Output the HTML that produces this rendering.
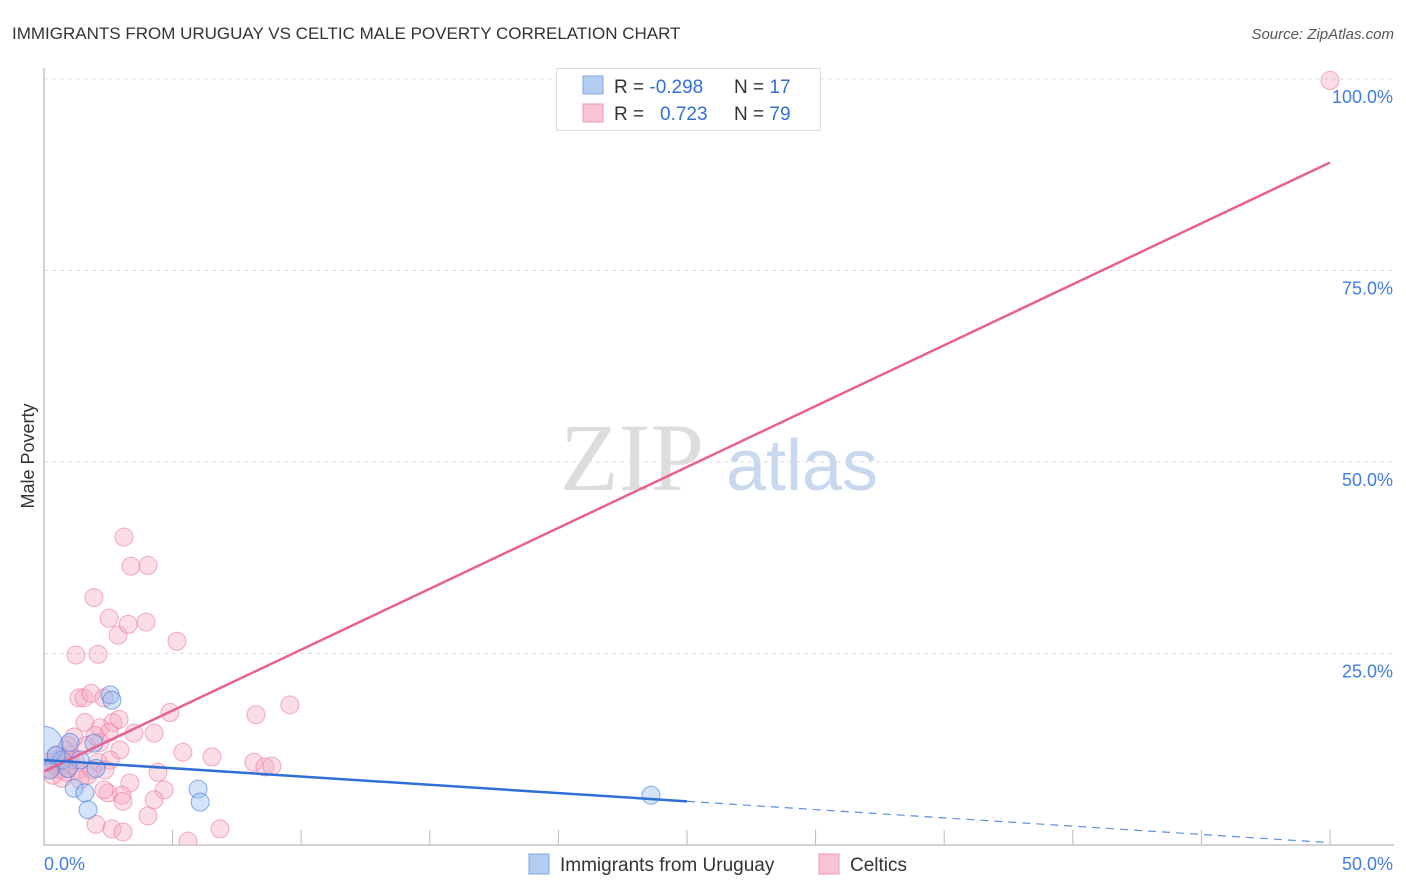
<!DOCTYPE html>
<html><head><meta charset="utf-8"><style>
body{margin:0;background:#fff;font-family:"Liberation Sans",sans-serif}
svg{display:block}
</style></head><body>
<svg id="c" width="1406" height="892" viewBox="0 0 1406 892">
<defs><clipPath id="plotclip"><rect x="44" y="60" width="1362" height="785"/></clipPath></defs>
<text x="12" y="39" font-size="17" fill="#333">IMMIGRANTS FROM URUGUAY VS CELTIC MALE POVERTY CORRELATION CHART</text>
<text x="1394" y="39" font-size="15" fill="#555" font-style="italic" text-anchor="end">Source: ZipAtlas.com</text>
<text x="0" y="0" font-size="18" fill="#333" transform="translate(34,456) rotate(-90)" text-anchor="middle">Male Poverty</text>
<g>
<text x="632" y="490" font-size="96" font-family="Liberation Serif,serif" fill="#ddd" text-anchor="middle">ZIP</text>
<text x="802" y="490" font-size="72" fill="#c8d8ef" text-anchor="middle">atlas</text>
</g>
<g id="grid"></g><g id="axes"></g><g id="pts" clip-path="url(#plotclip)"></g><g id="lines"></g>
<g>
<rect x="556.5" y="68.5" width="264" height="62" fill="#fff" stroke="#ddd"/>
<rect x="583" y="76" width="20" height="18" fill="#b3cdf3" stroke="#7fa6e0"/>
<rect x="583" y="104" width="20" height="18" fill="#f9c4d3" stroke="#ef9ab3"/>
<text x="614" y="93" font-size="19" fill="#333">R = <tspan fill="#2f6fd6">-0.298</tspan><tspan x="734">N = </tspan><tspan fill="#2f6fd6">17</tspan></text>
<text x="614" y="120" font-size="19" fill="#333">R = <tspan x="660" fill="#2f6fd6">0.723</tspan><tspan x="734">N = </tspan><tspan fill="#2f6fd6">79</tspan></text>
</g>
<g>
<rect x="529" y="854" width="20" height="20" fill="#b3cdf3" stroke="#7fa6e0"/>
<text x="560" y="871" font-size="19" fill="#333">Immigrants from Uruguay</text>
<rect x="819" y="854" width="20" height="20" fill="#f9c4d3" stroke="#ef9ab3"/>
<text x="850" y="871" font-size="19" fill="#333">Celtics</text>
</g>
</svg>
<script>
const yTicks=[25,50,75,100];
const yTickLabels=["25.0%","50.0%","75.0%","100.0%"];
const xTickLabels=["0.0%","50.0%"];
const blueX=[2.57,2.64,1.94,1.01,0.0,2.02,1.17,1.59,1.71,5.99,6.07,23.6,0.70,0.47,1.40,0.93,0.23];
const blueY=[19.6,18.9,13.3,13.4,13.0,10.0,7.4,6.8,4.6,7.3,5.6,6.5,11.1,11.7,11.1,10.0,9.8];
const pinkX=[3.11,3.38,4.04,1.94,2.53,2.88,3.27,3.97,5.17,1.24,2.10,9.56,8.24,4.90,1.36,1.56,1.83,2.33,1.59,2.18,2.68,2.92,2.53,4.28,5.40,6.53,3.50,2.10,1.01,1.63,2.95,1.17,8.16,8.59,8.86,4.43,3.34,3.03,2.49,2.33,4.67,4.04,4.28,3.07,2.02,2.64,3.07,5.60,6.84,50.0,0.62,0.43,0.23,0.86,0.54,0.16,1.01,1.32,1.71,0.82,1.21,1.87,0.35,0.70,2.18,2.57,1.40,0.47,0.93,1.98,2.37];
const pinkY=[40.2,36.4,36.5,32.3,29.6,27.4,28.8,29.1,26.6,24.8,24.9,18.3,17.0,17.3,19.2,19.2,19.8,19.2,16.0,15.3,16.0,16.4,14.7,14.6,12.1,11.5,14.6,10.8,11.7,13.0,12.4,14.1,10.8,10.2,10.3,9.5,8.1,6.5,6.8,7.2,7.2,3.8,5.9,5.7,2.7,2.1,1.7,0.5,2.1,99.8,9.8,10.4,10.0,9.5,11.1,10.8,10.4,9.8,9.1,12.4,11.1,9.8,9.1,8.7,13.4,11.1,8.5,11.7,13.0,14.3,9.8];
const pinkTrend=[9.6,89.1];
const blueTrend=[11.1,0.3];
const blueSolidEnd=25;
const NS="http://www.w3.org/2000/svg";
const X0=44,X1=1330,Y0=845,Y100=79;
const sx=v=>X0+v/50*(X1-X0);
const sy=v=>Y0-v/100*(Y0-Y100);
function mk(t,a,p){const e=document.createElementNS(NS,t);for(const k in a)e.setAttribute(k,a[k]);p.appendChild(e);return e;}
const grid=document.getElementById('grid'),axes=document.getElementById('axes'),pts=document.getElementById('pts'),lines=document.getElementById('lines');
yTicks.forEach((t,i)=>{
const g=mk('line',{x1:X0,x2:1394,y1:sy(t),y2:sy(t),stroke:'#ddd','stroke-dasharray':'4,4'},grid);


const l=mk('text',{x:1393,y:sy(t)+24,'font-size':18,fill:'#3f7de0','text-anchor':'end'},axes);
l.textContent=yTickLabels[i];


});
const ax=mk('path',{d:`M${X0} 68V${Y0}H1394`,stroke:'#aaa',fill:'none'},axes);


for(let v=5;v<=50;v+=5){const t=mk('line',{x1:sx(v),x2:sx(v),y1:Y0,y2:Y0-15,stroke:'#bbb'},axes);

}
[[0,'start',44],[50,'end',1393]].forEach((d,i)=>{const t=mk('text',{x:d[2],y:870,'font-size':18,fill:'#3f7de0','text-anchor':d[1]},axes);t.textContent=xTickLabels[i];

});
pinkX.forEach((x,i)=>{const c=mk('circle',{cx:sx(x),cy:sy(pinkY[i]),r:9,fill:'rgba(246,170,192,0.4)',stroke:'rgba(236,120,155,0.6)'},pts);

});
blueX.forEach((x,i)=>{const c=mk('circle',{cx:sx(x),cy:sy(blueY[i]),r:i==4?19:9,fill:'rgba(150,185,240,0.4)',stroke:'rgba(60,120,220,0.6)'},pts);

});
const pl=mk('line',{x1:sx(0),y1:sy(pinkTrend[0]),x2:sx(50),y2:sy(pinkTrend[1]),stroke:'#e8628f','stroke-width':2.5},lines);


const bAt=v=>blueTrend[0]+(blueTrend[1]-blueTrend[0])*v/50;
const bl=mk('line',{x1:sx(0),y1:sy(blueTrend[0]),x2:sx(blueSolidEnd),y2:sy(bAt(blueSolidEnd)),stroke:'#2f6fd6','stroke-width':2.5},lines);


const bd=mk('line',{x1:sx(blueSolidEnd),y1:sy(bAt(blueSolidEnd)),x2:sx(50),y2:sy(blueTrend[1]),stroke:'#5b8fdf','stroke-width':1.2,'stroke-dasharray':'8,6'},lines);


</script>
</body></html>
